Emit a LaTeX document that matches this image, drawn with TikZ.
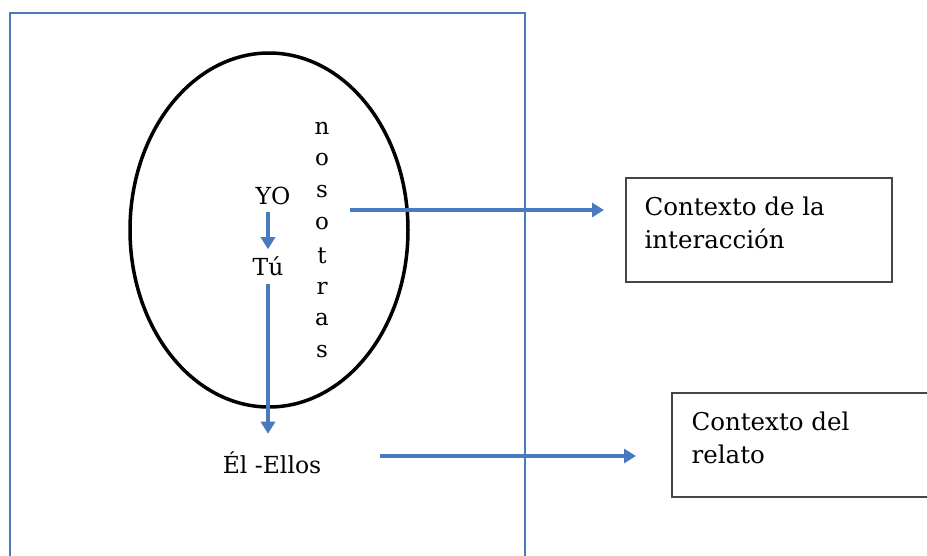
\documentclass[tikz,border=0pt]{standalone}
\usepackage{fontspec}
\setmainfont{DejaVu Serif}
\usetikzlibrary{arrows.meta,positioning}
\definecolor{xblue}{RGB}{74,122,190}
\definecolor{xframe}{RGB}{70,70,70}

\begin{document}
\begin{tikzpicture}[x=1pt, y=-1pt,
  word/.style={font=\fontsize{23.5}{33}\selectfont, text=black, inner sep=0pt},
  letter/.style={font=\fontsize{23}{32}\selectfont, text=black, inner sep=0pt},
  ctxbox/.style={draw=xframe, line width=1.2pt, minimum width=266pt, minimum height=104pt, inner sep=0pt},
  ctxtext/.style={font=\fontsize{24.5}{33}\selectfont, align=left, inner sep=0pt, anchor=north west},
  arr/.style={-{Triangle[width=14pt,length=12pt]}, draw=xblue, line width=3.2pt}
]
  \useasboundingbox (0,0) rectangle (927,555);

  % frame and circle of the interaction
  \draw[xblue, line width=2pt] (10,560) -- (10,13) -- (525,13) -- (525,560);
  \draw[black, line width=3.5pt] (269,230) ellipse[x radius=139, y radius=177];

  \node[word] (yo) at (273,196) {YO};
  \node[word] (tu) at (268,266) {Tú};
  \node[word] (ellos) at (272,463) {Él -Ellos};

  % nosotras, one letter under the other
  \foreach \c [count=\i from 0] in {n,o,s,o,t,r,a,s}
    \node[letter] (nos\i) at (322,{128+32*\i}) {\c};

  \node[ctxbox] (ctxint) at (759,230) {};
  \node[ctxtext] (ctxintt) at ([xshift=19pt, yshift=-19pt]ctxint.north west) {Contexto de la\\interacción};
  \node[ctxbox, minimum width=270pt] (ctxrel) at (807,445) {};
  \node[ctxtext] (ctxrelt) at ([xshift=20pt, yshift=-19pt]ctxrel.north west) {Contexto del\\relato};

  \coordinate (a1s) at (350,210);
  \coordinate (a1e) at (604,210);
  \coordinate (a2s) at (380,456);
  \coordinate (a2e) at (636,456);

  \draw[arr, shorten <=7pt, shorten >=7pt] (yo.south -| tu) -- (tu.north);
  \draw[arr, shorten <=8pt, shorten >=18pt] (tu.south) -- (ellos.north -| tu);
  \draw[arr] (a1s) -- (a1e);
  \draw[arr] (a2s) -- (a2e);
\end{tikzpicture}
\end{document}
